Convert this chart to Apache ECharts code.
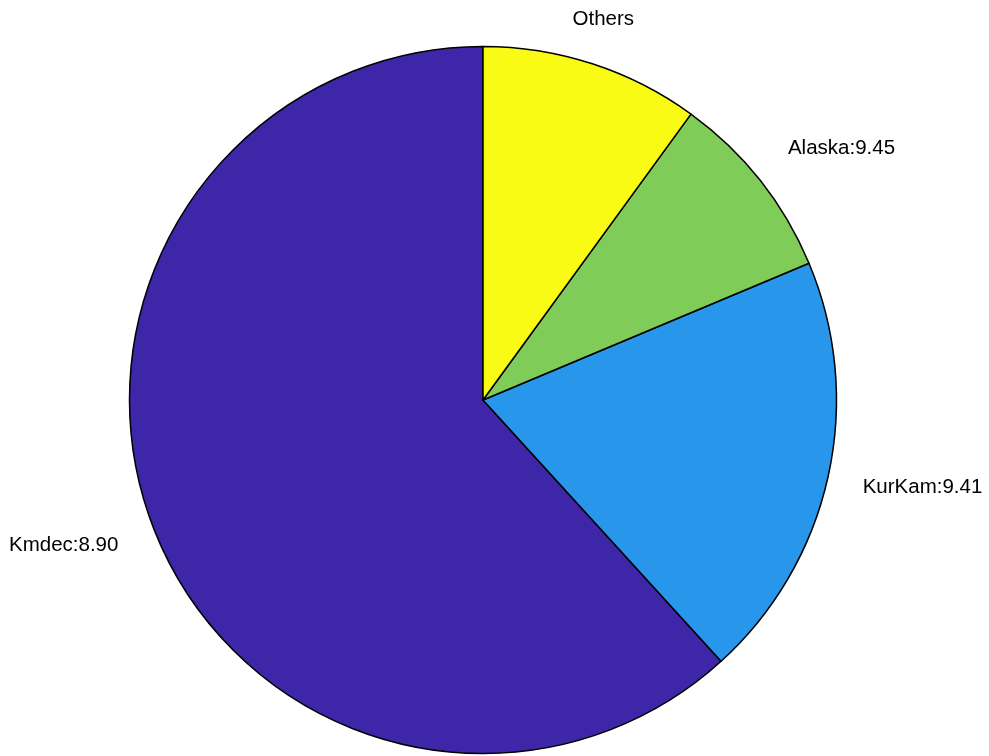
<!DOCTYPE html>
<html>
<head>
<meta charset="utf-8">
<script src="https://cdn.jsdelivr.net/npm/echarts@6/dist/echarts.min.js"></script>
<style>html,body{margin:0;padding:0;background:#fff;}#main{width:989px;height:756px;}</style>
</head>
<body>
<div id="main"></div>
<script>
var categories = ['Kmdec', 'KurKam', 'Alaska', 'Others'];
var shares = [61.76, 19.56, 8.67, 10.01];
var labelValues = ['8.90', '9.41', '9.45', null];
var colors = ['#3E26A8', '#2796EB', '#80CC59', '#F9FB15'];

var CX = 483, CY = 400, R = 353.5;
var total = shares.reduce(function (a, b) { return a + b; }, 0);

var chart = echarts.init(document.getElementById('main'), null, { renderer: 'canvas' });
chart.setOption({
  animation: false,
  backgroundColor: '#ffffff',
  series: [{
    type: 'pie',
    center: [CX, CY],
    radius: R,
    startAngle: 90,
    clockwise: false,
    avoidLabelOverlap: false,
    silent: true,
    itemStyle: { borderColor: '#000', borderWidth: 1.5 },
    label: {
      show: true,
      position: 'outside',
      color: '#000',
      fontFamily: 'Liberation Sans, Arial, sans-serif',
      fontSize: 20.5,
      formatter: function (p) {
        var v = labelValues[p.dataIndex];
        return v === null ? p.name : p.name + ':' + v;
      }
    },
    labelLine: { show: false, length: 35, length2: 0 },
    labelLayout: function (params) {
      var i = params.dataIndex;
      var cum = 0;
      for (var k = 0; k < i; k++) cum += shares[k];
      var phi = (90 + 360 * (cum + shares[i] / 2) / total) * Math.PI / 180;
      var dx = Math.cos(phi), dy = -Math.sin(phi);
      var x = CX + 1.1 * R * dx, y = CY + 1.1 * R * dy;
      var align = Math.abs(dy) > 0.9 ? 'center' : (dx > 0 ? 'left' : 'right');
      var va = dy < -0.5 ? 'bottom' : (dy > 0.5 ? 'top' : 'middle');
      if (va === 'middle') y += 2 + 8 * Math.max(0, dy);
      if (align === 'right') x -= 2;
      return { x: x, y: y, align: align, verticalAlign: va };
    },
    data: categories.map(function (c, i) {
      return { name: c, value: shares[i], itemStyle: { color: colors[i] } };
    })
  }]
});
</script>
</body>
</html>
